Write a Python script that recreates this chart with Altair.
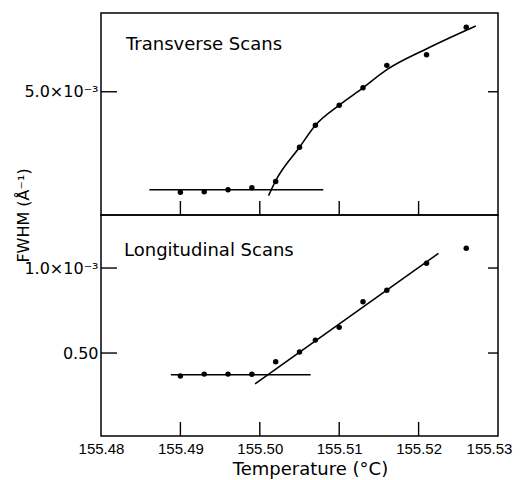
import altair as alt
import pandas as pd

# ---------------- data ----------------
temps = [155.490, 155.493, 155.496, 155.499, 155.502, 155.505,
         155.507, 155.510, 155.513, 155.516, 155.521, 155.526]
trans_fwhm = [2.45, 2.46, 2.51, 2.56, 2.72, 3.59, 4.15, 4.66, 5.10, 5.67, 5.94, 6.64]
long_fwhm = [0.365, 0.376, 0.376, 0.375, 0.449, 0.506, 0.576, 0.651, 0.802, 0.869, 1.028, 1.116]

trans_flat_t = [155.4861, 155.5080]
trans_flat_v = [2.51, 2.51]
trans_curve_t = [155.5011, 155.5020, 155.5050, 155.5070, 155.5100, 155.5130, 155.5160, 155.5209, 155.5272]
trans_curve_v = [2.36, 2.74, 3.59, 4.15, 4.66, 5.10, 5.56, 6.08, 6.67]

long_flat_t = [155.4888, 155.5064]
long_flat_v = [0.372, 0.372]
long_slope_t = [155.4994, 155.5225]
long_slope_v = [0.319, 1.086]

x_ticks = [155.48, 155.49, 155.50, 155.51, 155.52, 155.53]
x_inner_ticks = [155.49, 155.50, 155.51, 155.52]
top_y_ticks = [5.0]
top_y_labels = ["5.0×10⁻³"]
bot_y_ticks = [0.5, 1.0]
bot_y_labels = ["0.50", "1.0×10⁻³"]

top_title = "Transverse Scans"
bot_title = "Longitudinal Scans"
x_title = "Temperature (°C)"
y_title = "FWHM (Å⁻¹)"

# ---------------- helpers ----------------
W = 397
H_TOP = 202
H_BOT = 221
XLABEL_FONT = "Liberation Sans"
YLABEL_FONT = "DejaVu Sans"
TEXT_FONT = "DejaVu Sans"

x_scale = alt.Scale(domain=[x_ticks[0], x_ticks[-1]], nice=False, zero=False)
top_scale = alt.Scale(domain=[1.87, 7.0], nice=False, zero=False)
bot_scale = alt.Scale(domain=[0.012, 1.312], nice=False, zero=False)


def label_expr(vals, labels):
    expr = "''"
    for v, l in zip(vals, labels):
        expr = f"datum.value == {v} ? '{l}' : " + expr
    return expr


def lines_df(segs):
    rows = []
    for name, ts, vs in segs:
        for t, v in zip(ts, vs):
            rows.append({"seg": name, "T": t, "v": v})
    return pd.DataFrame(rows)


def panel(points, segs, yscale, yticks, ylabels, height, title_text, title_xy,
          bottom_axis, ytitle=None):
    pts = pd.DataFrame({"T": temps, "v": points})
    ln = lines_df(segs)

    if bottom_axis:
        xenc = alt.X("T:Q", scale=x_scale,
                     axis=alt.Axis(values=x_ticks, format=".2f", title=x_title,
                                   titleX=209, titlePadding=4, labelPadding=5,
                                   labelFlush=False, labelFont=XLABEL_FONT,
                                   labelFontSize=15,
                                   labelOffset={"condition": {"test": f"datum.value > {x_ticks[-2] + 0.005}",
                                                              "value": -9},
                                                "value": 0}))
    else:
        xenc = alt.X("T:Q", scale=x_scale, axis=None)

    yaxis_kwargs = dict(values=yticks, labelExpr=label_expr(yticks, ylabels),
                        labelPadding=3, labelFont=YLABEL_FONT, labelFontSize=16)
    if ytitle:
        yaxis_kwargs.update(title=ytitle, titleX=-78, titleY=0,
                            titleBaseline="middle", titleAngle=270)
    else:
        yaxis_kwargs.update(title=None)
    yenc = alt.Y("v:Q", scale=yscale, axis=alt.Axis(**yaxis_kwargs))

    p_layer = alt.Chart(pts).mark_circle(size=30, color="black", opacity=1).encode(
        x=xenc, y=yenc)
    l_layer = alt.Chart(ln).mark_line(color="black", strokeWidth=1.6,
                                      interpolate="monotone").encode(
        x=alt.X("T:Q", scale=x_scale), y=alt.Y("v:Q", scale=yscale),
        detail="seg:N")

    xt = pd.DataFrame({"T": x_inner_ticks})
    xtick_layer = alt.Chart(xt).mark_rule(color="black", strokeWidth=1.4).encode(
        x=alt.X("T:Q", scale=x_scale),
        y=alt.value(height), y2=alt.value(height - 14))

    yt = pd.DataFrame({"v": yticks})
    ytick_left = alt.Chart(yt).mark_rule(color="black", strokeWidth=1.4).encode(
        y=alt.Y("v:Q", scale=yscale), x=alt.value(0), x2=alt.value(16))
    ytick_right = alt.Chart(yt).mark_rule(color="black", strokeWidth=1.4).encode(
        y=alt.Y("v:Q", scale=yscale), x=alt.value(W), x2=alt.value(W - 10))

    txt = alt.Chart(pd.DataFrame({"a": [0]})).mark_text(
        text=title_text, font=TEXT_FONT, fontSize=18, align="left",
        baseline="alphabetic", color="black").encode(
        x=alt.value(title_xy[0]), y=alt.value(title_xy[1]))

    return alt.layer(p_layer, l_layer, xtick_layer, ytick_left, ytick_right, txt).properties(
        width=W, height=height)


top = panel(trans_fwhm,
            [("flat", trans_flat_t, trans_flat_v), ("curve", trans_curve_t, trans_curve_v)],
            top_scale, top_y_ticks, top_y_labels, H_TOP, top_title, (25, 37), False)
bot = panel(long_fwhm,
            [("flat", long_flat_t, long_flat_v), ("slope", long_slope_t, long_slope_v)],
            bot_scale, bot_y_ticks, bot_y_labels, H_BOT, bot_title, (23, 41), True,
            ytitle=y_title)

chart = alt.vconcat(top, bot, spacing=0, bounds="flush").properties(
    padding={"left": 6, "top": 4, "right": 0, "bottom": 0}
).configure_view(
    stroke="black", strokeWidth=1.5
).configure_axis(
    labelColor="black",
    titleFont=TEXT_FONT, titleFontSize=18, titleColor="black", titleFontWeight="normal",
    domain=False, ticks=False, grid=False
).configure_axisY(
    titleFontSize=16
)

chart.save("out.html", embed_options={"renderer": "svg", "actions": False})
